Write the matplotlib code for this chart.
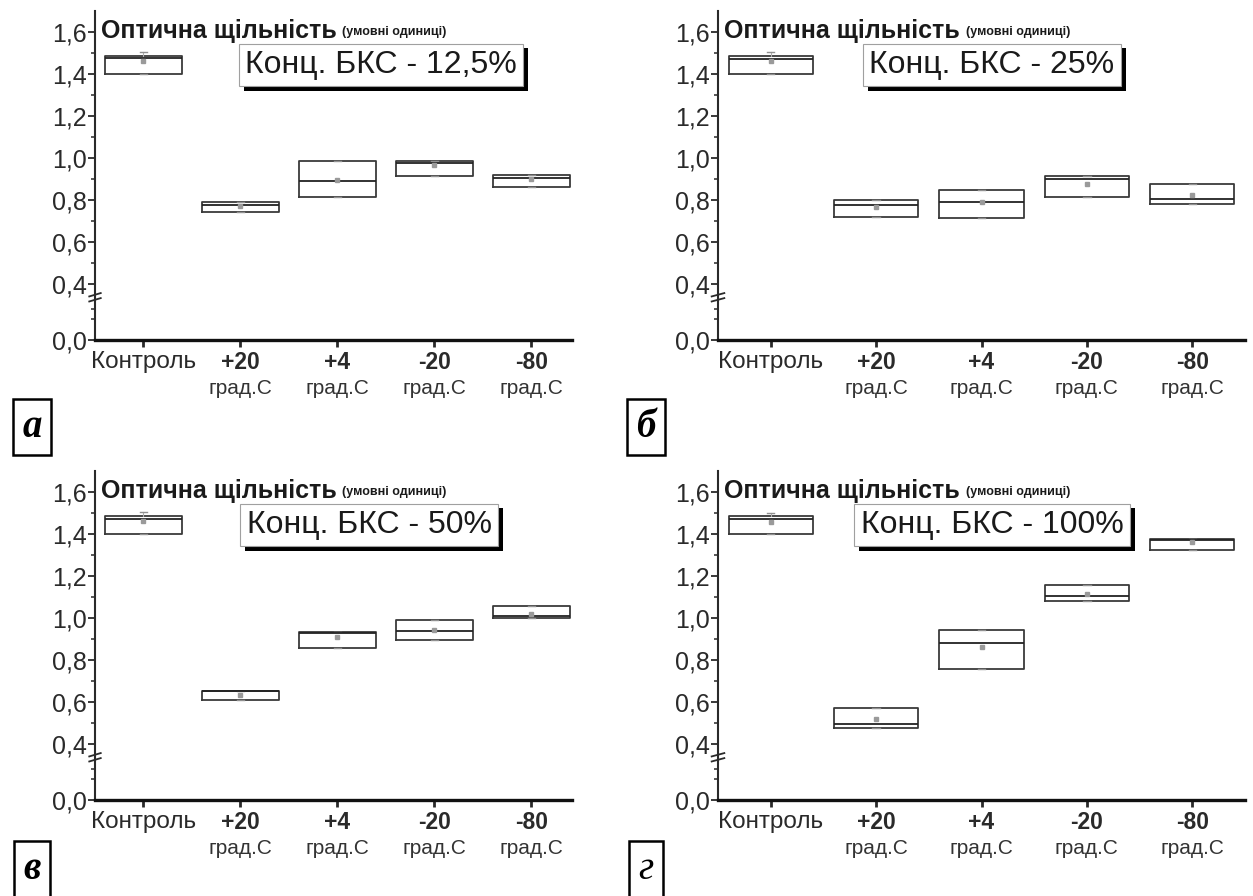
import numpy as np
import matplotlib
matplotlib.use('Agg')
import matplotlib.pyplot as plt
import matplotlib.patheffects as pe
from matplotlib.ticker import FixedLocator, FuncFormatter

plt.rcParams['font.family'] = ['Liberation Sans', 'DejaVu Sans']

# categories and panels
cats = ['Контроль', '+20', '+4', '-20', '-80']
unit = 'град.С'
conc = ['12,5%', '25%', '50%', '100%']
letters = ['а', 'б', 'в', 'г']

# box statistics, one row per panel (12,5 / 25 / 50 / 100 %)
q1 = [[1.400, 0.745, 0.815, 0.912, 0.860],
      [1.400, 0.720, 0.713, 0.814, 0.781],
      [1.400, 0.608, 0.857, 0.895, 1.000],
      [1.401, 0.475, 0.758, 1.083, 1.326]]
med = [[1.475, 0.778, 0.890, 0.975, 0.905],
       [1.470, 0.777, 0.790, 0.902, 0.806],
       [1.473, 0.650, 0.930, 0.938, 1.010],
       [1.470, 0.494, 0.879, 1.107, 1.370]]
q3 = [[1.485, 0.790, 0.985, 0.985, 0.920],
      [1.487, 0.798, 0.846, 0.913, 0.875],
      [1.487, 0.653, 0.933, 0.990, 1.059],
      [1.484, 0.573, 0.943, 1.159, 1.374]]
mean = [[1.460, 0.770, 0.895, 0.968, 0.900],
        [1.460, 0.766, 0.790, 0.876, 0.822],
        [1.460, 0.634, 0.908, 0.943, 1.020],
        [1.457, 0.517, 0.860, 1.115, 1.360]]
lo = [[1.400, 0.745, 0.815, 0.912, 0.860],
      [1.400, 0.720, 0.713, 0.814, 0.781],
      [1.400, 0.608, 0.857, 0.895, 1.000],
      [1.400, 0.475, 0.758, 1.083, 1.326]]
hi = [[1.505, 0.790, 0.985, 0.985, 0.920],
      [1.505, 0.798, 0.846, 0.913, 0.875],
      [1.505, 0.653, 0.933, 0.990, 1.059],
      [1.500, 0.573, 0.943, 1.159, 1.374]]

# broken y axis: 0..0.2 kept, 0.2..0.34 squeezed, above shifted down
LO, HI, GAP = 0.2, 0.34, 0.133
SLOPE = (HI - GAP - LO) / (HI - LO)


def fwd(y):
    y = np.asarray(y, dtype=float)
    return np.where(y <= LO, y, np.where(y >= HI, y - GAP, LO + (y - LO) * SLOPE))


def inv(u):
    u = np.asarray(u, dtype=float)
    return np.where(u <= LO, u, np.where(u >= HI - GAP, u + GAP, LO + (u - LO) / SLOPE))


W, H = 1253, 896
fig = plt.figure(figsize=(W / 100, H / 100), dpi=100)

# axes frames in pixels: left, right, bottom(0.0), top ; and right x limit
frames = [(95, 572, 340, 11), (718, 1245, 340, 11),
          (95, 572, 800, 471), (718, 1245, 800, 471)]
xright = [4.42, 4.5, 4.42, 4.5]
legend_x = [0.60, 0.52, 0.575, 0.52]
letter_pos = [(32, 427), (646, 427), (32, 869), (646, 869)]

for k in range(4):
    l, r, b, t = frames[k]
    ax = fig.add_axes([l / W, 1 - b / H, (r - l) / W, (b - t) / H])
    ax.set_yscale('function', functions=(fwd, inv))

    stats = []
    for i in range(5):
        stats.append(dict(med=med[k][i], q1=q1[k][i], q3=q3[k][i], mean=mean[k][i],
                          whislo=lo[k][i], whishi=hi[k][i], fliers=[]))
    ax.bxp(stats, positions=range(5), widths=0.8, showmeans=True, showcaps=True,
           capwidths=0.07,
           boxprops=dict(color='#3a3a3a', lw=1.3),
           medianprops=dict(color='#222222', lw=1.3),
           whiskerprops=dict(color='#b0b0b0', lw=0.8),
           capprops=dict(color='#909090', lw=1.0),
           meanprops=dict(marker='s', ms=3, mfc='#9a9a9a', mec='#9a9a9a'))

    ax.set_xlim(-0.5, xright[k])
    ax.set_ylim(0, 1.70)

    ax.yaxis.set_major_locator(FixedLocator([0.0, 0.4, 0.6, 0.8, 1.0, 1.2, 1.4, 1.6]))
    ax.yaxis.set_minor_locator(FixedLocator([0.1, 0.15, 0.5, 0.7, 0.9, 1.1, 1.3, 1.5]))
    ax.yaxis.set_major_formatter(FuncFormatter(lambda v, p: f'{v:.1f}'.replace('.', ',')))
    ax.yaxis.set_minor_formatter(FuncFormatter(lambda v, p: ''))
    ax.tick_params(axis='y', which='major', length=5, width=1.3, labelsize=18,
                   colors='#2a2a2a', pad=1)
    ax.tick_params(axis='y', which='minor', length=3, width=1.1, colors='#2a2a2a')

    ax.set_xticks(range(5))
    ax.set_xticklabels(cats)
    ax.tick_params(axis='x', length=5, width=2, labelsize=17.5, colors='#2a2a2a', pad=3)
    for i, lab in enumerate(ax.get_xticklabels()):
        if i > 0:
            lab.set_fontweight('bold')
            lab.set_fontsize(16.5)
            ax.annotate(unit, xy=(i, 0), xycoords=('data', 'axes fraction'),
                        xytext=(0, -28), textcoords='offset points',
                        ha='center', va='top', fontsize=15, color='#333333')

    for s in ['top', 'right']:
        ax.spines[s].set_visible(False)
    ax.spines['left'].set_linewidth(1.5)
    ax.spines['left'].set_color('#2a2a2a')
    ax.spines['bottom'].set_linewidth(2.4)
    ax.spines['bottom'].set_color('#111111')

    # break mark on the y axis
    tr = ax.get_yaxis_transform()
    ub = float(fwd(0.27))
    for dy in (-0.012, 0.012):
        ax.plot([-0.012, 0.012], [inv(ub + dy - 0.008), inv(ub + dy + 0.008)],
                transform=tr, color='#2a2a2a', lw=1.3, clip_on=False)

    # heading inside the axes
    t1 = ax.text(0.012, 1.605, 'Оптична щільність', transform=tr, fontsize=18,
                 fontweight='bold', color='#1a1a1a', va='center', ha='left')
    ax.annotate('(умовні одиниці)', xy=(1, 0.2), xycoords=t1, xytext=(4, 0),
                textcoords='offset points', fontsize=9, fontweight='bold',
                color='#1a1a1a', va='bottom', ha='left')

    # concentration label with drop shadow
    lt = ax.text(legend_x[k], 1.443, 'Конц. БКС - ' + conc[k], transform=tr,
                 fontsize=23, color='#1a1a1a', ha='center', va='center',
                 bbox=dict(boxstyle='square,pad=0.2', fc='white', ec='#a0a0a0', lw=0.8))
    lt.get_bbox_patch().set_path_effects(
        [pe.SimplePatchShadow(offset=(3.5, -3.5), shadow_rgbFace='black', alpha=1.0),
         pe.Normal()])

    # panel letter
    px, py = letter_pos[k]
    fig.text(px / W, 1 - py / H, letters[k], fontsize=28, family='Liberation Serif',
             fontweight='bold' if k < 3 else 'normal', style='italic',
             ha='center', va='center',
             bbox=dict(boxstyle='square,pad=0.25', fc='white', ec='black', lw=1.8))

fig.savefig('out.png', dpi=100)
